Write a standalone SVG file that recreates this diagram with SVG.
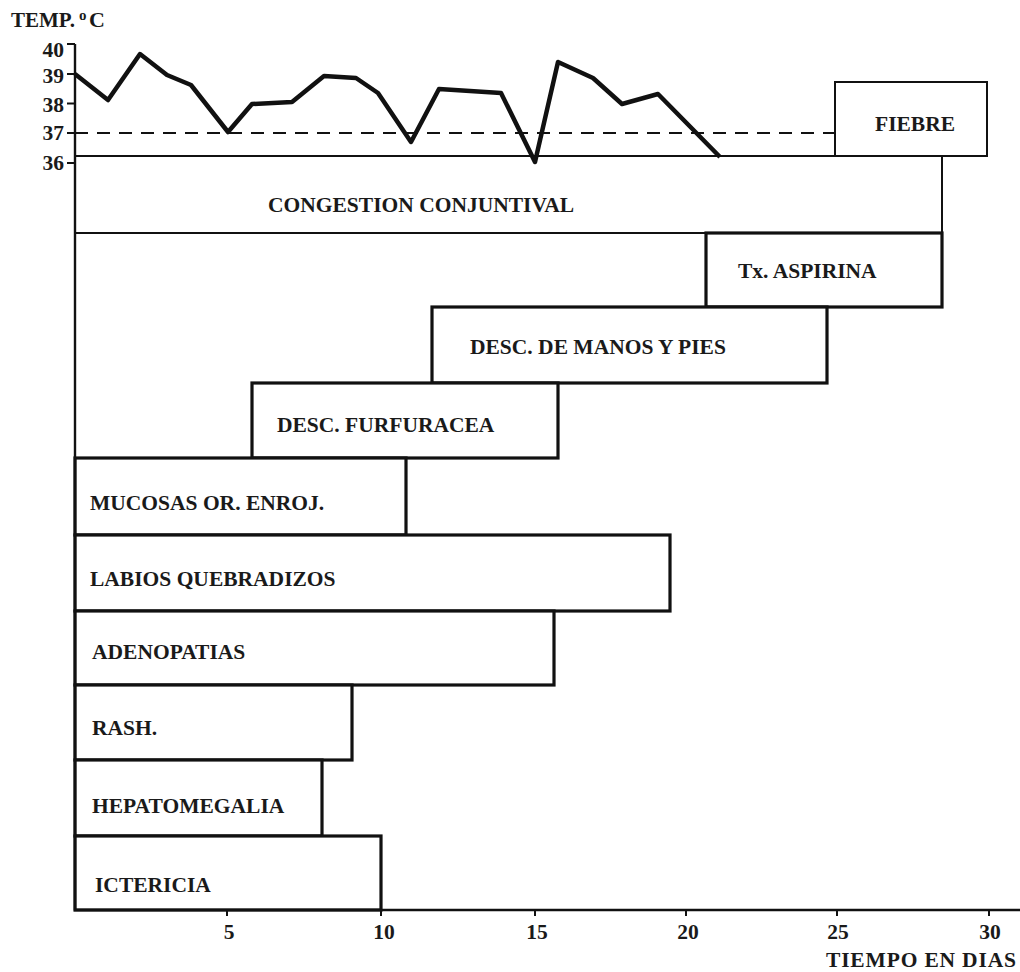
<svg xmlns="http://www.w3.org/2000/svg" width="1020" height="972" viewBox="0 0 1020 972">
<style>
  text { font-family: "Liberation Serif", "Times New Roman", serif; font-weight: bold; fill: #1a1a1a; }
  .lbl { font-size: 21.5px; }
  .num { font-size: 21.5px; }
  .box { fill: #ffffff; stroke: #111; stroke-width: 3.2; stroke-linejoin: miter; }
  .thin { fill: #ffffff; stroke: #111; stroke-width: 2; }
  .axis { stroke: #111; stroke-width: 2.4; fill: none; }
  .tick { stroke: #111; stroke-width: 2; }
</style>
<rect x="0" y="0" width="1020" height="972" fill="#ffffff"/>

<g id="boxes">
  <g id="fiebre"><rect class="thin" x="835" y="82" width="152" height="74"/><text class="lbl" x="875" y="131">FIEBRE</text></g>
  <g id="congestion-conjuntival"><rect class="thin" x="75" y="156" width="867" height="77"/><text class="lbl" x="268" y="212">CONGESTION CONJUNTIVAL</text></g>
  <g id="tx-aspirina"><rect class="box" x="706" y="233" width="236" height="74"/><text class="lbl" x="738" y="278">Tx. ASPIRINA</text></g>
  <g id="desc-manos-pies"><rect class="box" x="432" y="307" width="395" height="76"/><text class="lbl" x="470" y="354">DESC. DE MANOS Y PIES</text></g>
  <g id="desc-furfuracea"><rect class="box" x="252" y="383" width="306" height="75"/><text class="lbl" x="277" y="432">DESC. FURFURACEA</text></g>
  <g id="mucosas"><rect class="box" x="75" y="458" width="331" height="77"/><text class="lbl" x="90" y="510">MUCOSAS OR. ENROJ.</text></g>
  <g id="labios"><rect class="box" x="75" y="535" width="595" height="76"/><text class="lbl" x="90" y="586">LABIOS QUEBRADIZOS</text></g>
  <g id="adenopatias"><rect class="box" x="75" y="611" width="479" height="74"/><text class="lbl" x="92" y="659">ADENOPATIAS</text></g>
  <g id="rash"><rect class="box" x="75" y="685" width="277" height="75"/><text class="lbl" x="92" y="735">RASH.</text></g>
  <g id="hepatomegalia"><rect class="box" x="75" y="760" width="247" height="76"/><text class="lbl" x="92" y="813">HEPATOMEGALIA</text></g>
  <g id="ictericia"><rect class="box" x="75" y="836" width="306" height="74"/><text class="lbl" x="95" y="892">ICTERICIA</text></g>
</g>

<g id="axes">
  <line class="axis" x1="75" y1="44" x2="75" y2="910"/>
  <line class="axis" x1="74" y1="910" x2="1020" y2="910"/>
  <line class="tick" x1="67" y1="44" x2="75" y2="44"/>
  <line class="tick" x1="67" y1="74" x2="75" y2="74"/>
  <line class="tick" x1="67" y1="103.5" x2="75" y2="103.5"/>
  <line class="tick" x1="67" y1="133" x2="75" y2="133"/>
  <line class="tick" x1="67" y1="163" x2="75" y2="163"/>
  <text class="num" x="64" y="57" text-anchor="end">40</text>
  <text class="num" x="64" y="83" text-anchor="end">39</text>
  <text class="num" x="64" y="112" text-anchor="end">38</text>
  <text class="num" x="64" y="140" text-anchor="end">37</text>
  <text class="num" x="64" y="170" text-anchor="end">36</text>
  <text x="11" y="27" font-size="21">TEMP.</text>
  <text x="79" y="20" font-size="15">o</text>
  <text x="89" y="27" font-size="22">C</text>
  <line class="tick" x1="227" y1="910" x2="227" y2="916"/>
  <line class="tick" x1="381" y1="910" x2="381" y2="916"/>
  <line class="tick" x1="535" y1="910" x2="535" y2="916"/>
  <line class="tick" x1="686" y1="910" x2="686" y2="916"/>
  <line class="tick" x1="837" y1="910" x2="837" y2="916"/>
  <line class="tick" x1="989" y1="910" x2="989" y2="916"/>
  <text class="num" x="229" y="939" text-anchor="middle">5</text>
  <text class="num" x="384" y="939" text-anchor="middle">10</text>
  <text class="num" x="537" y="939" text-anchor="middle">15</text>
  <text class="num" x="688" y="939" text-anchor="middle">20</text>
  <text class="num" x="838" y="939" text-anchor="middle">25</text>
  <text class="num" x="990" y="939" text-anchor="middle">30</text>
  <text class="lbl" x="826" y="967" textLength="190" lengthAdjust="spacing">TIEMPO EN DIAS</text>
</g>

<g id="connectors">
  <line x1="75" y1="133" x2="835" y2="133" stroke="#111" stroke-width="2" stroke-dasharray="13 9"/>
  <polyline fill="none" stroke="#111" stroke-width="4.5" stroke-linejoin="round" stroke-linecap="butt"
    points="75,74 108,100 140,54 167,75 191,85 228,132 252,104 292,102 324,76 356,78 378,93 411,142 439,89 501,93 535,162 558,62 593,78 622,104 658,94 720,157"/>
</g>
</svg>
